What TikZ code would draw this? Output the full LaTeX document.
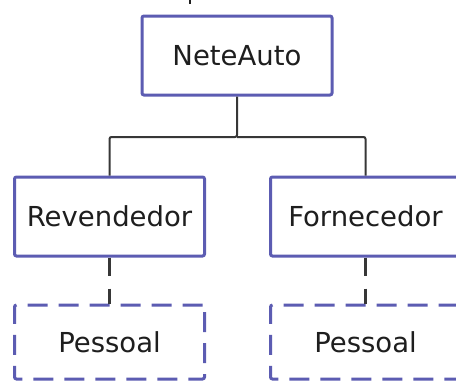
\documentclass[tikz,border=0pt]{standalone}
\usepackage{fontspec}
\setmainfont{DejaVu Sans}
\definecolor{boxblue}{RGB}{92,92,178}
\definecolor{linkgrey}{RGB}{55,55,55}
\definecolor{txt}{RGB}{30,30,30}
\tikzset{
  orgbox/.style={draw=boxblue, line width=3pt, fill=white, rounded corners=2pt,
    minimum width=190pt, minimum height=79pt, inner sep=0pt,
    font=\fontsize{27.5}{30}\selectfont, text=txt},
  staffbox/.style={orgbox, dash pattern=on 20pt off 11pt, minimum height=74pt},
  link/.style={draw=linkgrey, line width=2pt, rounded corners=2pt},
  dlink/.style={draw=linkgrey, line width=2.2pt, dash pattern=on 18pt off 13pt}
}
\begin{document}
\begin{tikzpicture}[x=1pt, y=-1pt]
  \useasboundingbox (0,0) rectangle (456,383);
  \clip (0,0) rectangle (456,383);
  % fragment of a caption above the chart
  \draw[txt, line width=1.6pt] (190,0) -- (190,3.5);
  % boxes
  \node[orgbox] (root) at (237,55.5) {NeteAuto};
  \node[orgbox] (rev)  at (109.5,216.5) {Revendedor};
  \node[orgbox] (forn) at (365.5,216.5) {Fornecedor};
  \node[staffbox] (p1) at (109.5,342) {Pessoal};
  \node[staffbox] (p2) at (365.5,342) {Pessoal};
  % tree connectors
  \coordinate (bus) at (237,137);
  \draw[link] (root.south) -- (bus) -| (rev.north);
  \draw[link] (bus) -| (forn.north);
  \draw[dlink] (rev.south) -- (p1.north);
  \draw[dlink] (forn.south) -- (p2.north);
\end{tikzpicture}
\end{document}
